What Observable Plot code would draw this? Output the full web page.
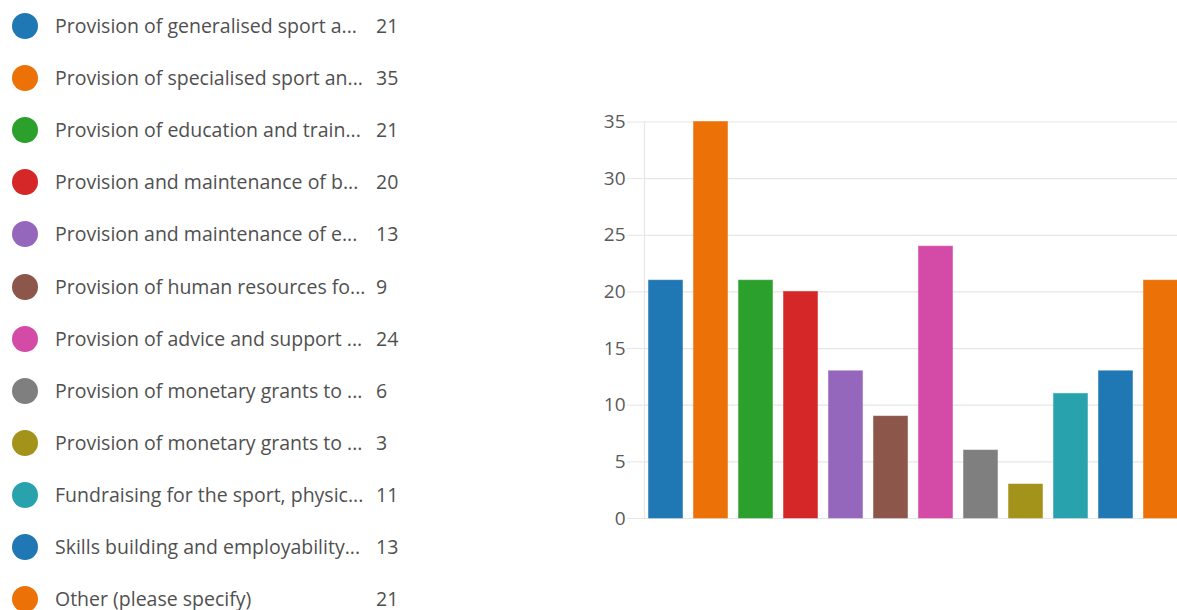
<!DOCTYPE html>
<html>
<head>
<meta charset="utf-8">
<script src="https://cdn.jsdelivr.net/npm/d3@7"></script>
<script src="https://cdn.jsdelivr.net/npm/@observablehq/plot@0.6"></script>
<style>
  html, body { margin: 0; padding: 0; background: #fff; overflow: hidden; width: 1177px; height: 610px; }
  #legend { position: absolute; left: 0; top: 0; font-family: "Open Sans", sans-serif; font-size: 19.5px; color: #505050; }
  .row { position: absolute; left: 0; width: 420px; height: 26px; white-space: nowrap; }
  .dot { position: absolute; left: 12px; top: 0; width: 26px; height: 26px; border-radius: 50%; }
  .lab, .cnt { position: absolute; top: 50%; transform: translateY(-52%); line-height: 1; }
  .lab { left: 55px; }
  .cnt { left: 376px; }
  #chart { position: absolute; left: 590px; top: 0; width: 592px; height: 610px; }
  #chart svg { max-width: none !important; }
</style>
</head>
<body>
<div id="legend"></div>
<div id="chart"></div>
<script>
const categories = [
  "Provision of generalised sport a...",
  "Provision of specialised sport an...",
  "Provision of education and train...",
  "Provision and maintenance of b...",
  "Provision and maintenance of e...",
  "Provision of human resources fo...",
  "Provision of advice and support ...",
  "Provision of monetary grants to ... ",
  "Provision of monetary grants to ...",
  "Fundraising for the sport, physic...",
  "Skills building and employability...",
  "Other (please specify)"
];
const values = [21, 35, 21, 20, 13, 9, 24, 6, 3, 11, 13, 21];
const colors = ["#1f77b4", "#ec7106", "#2ca02c", "#d62728", "#9467bd", "#8c564b",
                "#d44aa7", "#7f7f7f", "#a3931a", "#28a3ae", "#1f77b4", "#ec7106"];
const yTicks = [0, 5, 10, 15, 20, 25, 30, 35];

const data = categories.map((c, i) => ({ cat: c, value: values[i], color: colors[i] }));

// Legend (HTML)
const legend = document.getElementById("legend");
data.forEach((d, i) => {
  const row = document.createElement("div");
  row.className = "row";
  row.style.top = (13 + i * 52.1) + "px";
  row.innerHTML = `<span class="dot" style="background:${d.color}"></span><span class="lab"></span><span class="cnt"></span>`;
  row.querySelector(".lab").textContent = d.cat.trim();
  row.querySelector(".cnt").textContent = d.value;
  legend.appendChild(row);
});

const chart = Plot.plot({
  width: 592,
  height: 610,
  marginTop: 121.5,
  marginBottom: 92,
  marginLeft: 54,
  marginRight: 0,
  style: { fontFamily: "Open Sans, sans-serif", fontSize: "19px", color: "#5a5a5a", background: "#fff" },
  x: { domain: categories, paddingInner: 0.244, paddingOuter: 0.1, round: false, axis: null },
  y: { domain: [0, 35], ticks: yTicks },
  marks: [
    Plot.ruleY(yTicks, { stroke: "#e6e6e6", strokeWidth: 1.2 }),
    Plot.frame({ anchor: "left", stroke: "#e6e6e6", strokeWidth: 1.2 }),
    Plot.axisY({ ticks: yTicks, tickSize: 17, tickPadding: 2, stroke: "#e6e6e6", fill: "#5a5a5a", fontSize: 19, label: null }),
    Plot.barY(data, { x: "cat", y: "value", fill: "color", stroke: "color", strokeOpacity: 0.5 })
  ]
});
document.getElementById("chart").appendChild(chart);
</script>
</body>
</html>
